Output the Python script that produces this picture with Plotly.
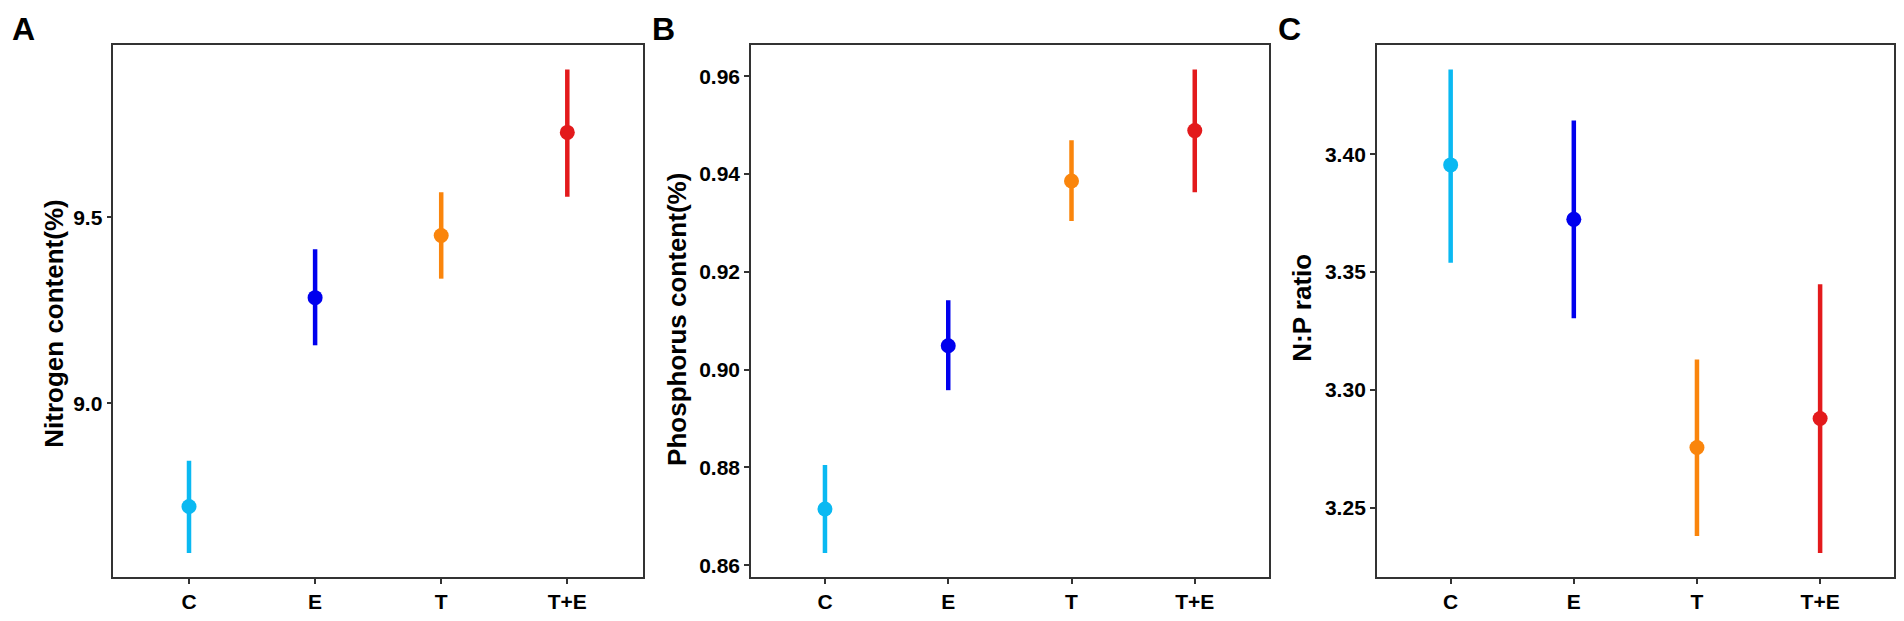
import plotly.graph_objects as go

treatments = ["C", "E", "T", "T+E"]
colors = ["#0AB9F2", "#0000EE", "#FA850C", "#E31A1C"]

# Nitrogen content (%)
n_mean = [8.723, 9.284, 9.451, 9.728]
n_low = [8.598, 9.156, 9.335, 9.555]
n_high = [8.846, 9.414, 9.567, 9.897]

# Phosphorus content (%)
p_mean = [0.8715, 0.9049, 0.9386, 0.9489]
p_low = [0.8625, 0.8958, 0.9304, 0.9363]
p_high = [0.8805, 0.9142, 0.9469, 0.9614]

# N:P ratio
np_mean = [3.3955, 3.3724, 3.2756, 3.2879]
np_low = [3.354, 3.3304, 3.2380, 3.2308]
np_high = [3.436, 3.4143, 3.3129, 3.3449]

panels = [
    ("A", "Nitrogen content(%)", n_mean, n_low, n_high, [8.5, 9.0, 9.5], ["", "9.0", "9.5"]),
    ("B", "Phosphorus content(%)", p_mean, p_low, p_high,
     [0.86, 0.88, 0.90, 0.92, 0.94, 0.96], ["0.86", "0.88", "0.90", "0.92", "0.94", "0.96"]),
    ("C", "N:P ratio", np_mean, np_low, np_high,
     [3.25, 3.30, 3.35, 3.40], ["3.25", "3.30", "3.35", "3.40"]),
]

# page body has an 8px margin, so the figure is drawn 16px smaller
OFF = 8
W, H = 1904 - 2 * OFF, 621 - 2 * OFF
x_domains = [(113.4, 643.3), (751.4, 1269.4), (1377.5, 1895.0)]
y_top, y_bot = 46.0, 587.7
title_x = [54, 678, 1303]
title_y = [329.6, 325.0, 312.9]
letter_x = [24, 664, 1290]


def px(v):
    return (v - OFF) / W


def py(v):
    return 1 - (v - OFF) / H


FONT = "Liberation Sans, Arial, sans-serif"

fig = go.Figure()
annotations = []

for i, (letter, ytitle, mean, low, high, tv, tt) in enumerate(panels):
    ax = "" if i == 0 else str(i + 1)
    for j, t in enumerate(treatments):
        fig.add_trace(
            go.Scatter(
                x=[t],
                y=[mean[j]],
                mode="markers",
                marker=dict(color=colors[j], size=15),
                error_y=dict(
                    type="data",
                    symmetric=False,
                    array=[high[j] - mean[j]],
                    arrayminus=[mean[j] - low[j]],
                    color=colors[j],
                    thickness=4.5,
                    width=0,
                ),
                xaxis="x" + ax,
                yaxis="y" + ax,
                showlegend=False,
            )
        )
    lo_all, hi_all = min(low), max(high)
    pad = (hi_all - lo_all) * 0.05
    axis_style = dict(
        showline=True,
        linecolor="#333333",
        linewidth=1.5,
        mirror=True,
        ticks="outside",
        ticklen=5,
        tickwidth=1.5,
        tickcolor="#333333",
        showgrid=False,
        zeroline=False,
        tickfont=dict(family=FONT, size=21, color="black", weight="bold"),
    )
    fig.layout["xaxis" + ax] = dict(
        axis_style,
        domain=[px(x_domains[i][0]), px(x_domains[i][1])],
        anchor="y" + ax,
        type="category",
        categoryorder="array",
        categoryarray=treatments,
        range=[-0.6, 3.6],
    )
    fig.layout["yaxis" + ax] = dict(
        axis_style,
        domain=[py(y_bot), py(y_top)],
        anchor="x" + ax,
        range=[lo_all - pad, hi_all + pad],
        tickvals=tv,
        ticktext=tt,
    )
    annotations.append(
        dict(
            text=ytitle,
            xref="paper",
            yref="paper",
            x=px(title_x[i]),
            y=py(title_y[i]),
            xanchor="center",
            yanchor="middle",
            textangle=-90,
            showarrow=False,
            font=dict(family=FONT, size=26, color="black", weight="bold"),
        )
    )
    annotations.append(
        dict(
            text=letter,
            xref="paper",
            yref="paper",
            x=px(letter_x[i]),
            y=py(29),
            xanchor="center",
            yanchor="middle",
            showarrow=False,
            font=dict(family=FONT, size=32, color="black", weight="bold"),
        )
    )

fig.update_layout(
    width=W,
    height=H,
    margin=dict(l=0, r=0, t=0, b=0),
    paper_bgcolor="white",
    plot_bgcolor="white",
    annotations=annotations,
)

fig.write_html("out.html")
